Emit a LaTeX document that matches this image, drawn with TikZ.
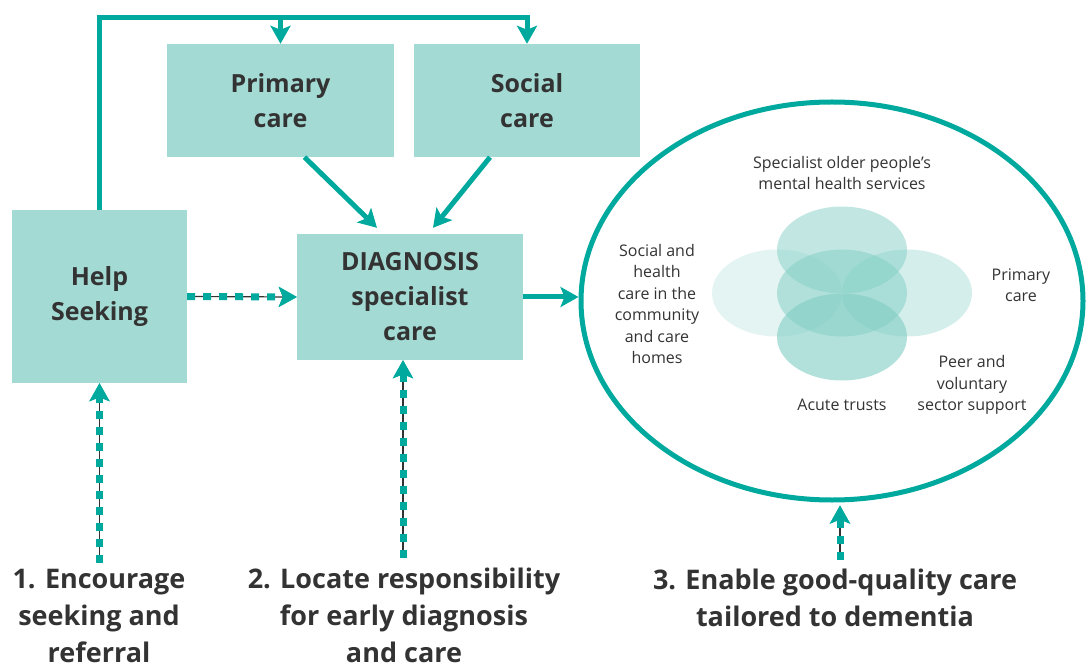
\documentclass[tikz,border=0pt]{standalone}
\usepackage{fontspec}
\setmainfont{Open Sans}
\usetikzlibrary{arrows.meta,shapes.geometric}
\definecolor{tealc}{HTML}{00A99D}
\definecolor{boxc}{HTML}{A3DBD4}
\definecolor{txt}{HTML}{333333}
\definecolor{innerc}{HTML}{7FCDC3}
\begin{document}
\begin{tikzpicture}[x=1pt,y=-1pt,
  box/.style={fill=boxc, draw=none, inner sep=0pt, text=txt, align=center,
    font=\bfseries\fontsize{25}{35}\selectfont},
  tipc/.style={-{Stealth[length=18pt,width=20pt,inset=4pt,color=tealc]}},
  conn/.style={draw=tealc, line width=5pt, tipc},
  dconn/.style={draw=tealc, line width=7pt, dash pattern=on 8pt off 8pt, tipc,
    preaction={draw=txt, line width=1.2pt, solid}},
  small/.style={text=txt, align=center, inner sep=0pt, font=\fontsize{16}{21.5}\selectfont},
  big/.style={text=txt, align=center, inner sep=0pt, font=\bfseries\fontsize{27}{37}\selectfont},
  inner/.style={ellipse, draw=none, minimum width=130pt, minimum height=87pt, inner sep=0pt, fill=innerc}
]
\useasboundingbox (0,0) rectangle (1092,668);

% boxes
\node[box, minimum width=175pt, minimum height=173pt] (help) at (99.5,296.5) {\raisebox{-6pt}{\parbox{150pt}{\centering Help\\Seeking}}};
\node[box, minimum width=227pt, minimum height=113pt] (primary) at (280.5,100.5) {Primary\\care};
\node[box, minimum width=226pt, minimum height=113pt] (social) at (527,100.5) {Social\\care};
\node[box, minimum width=226pt, minimum height=126pt] (diag) at (410,297) {DIAGNOSIS\\specialist\\care};

% big ellipse
\node[ellipse, draw=tealc, line width=5pt, minimum width=502pt, minimum height=398pt, inner sep=0pt] (circ) at (832,301) {};

% inner ellipses
\node[inner, fill opacity=0.22] (eleft) at (777,293) {};
\node[inner, fill opacity=0.34] (eright) at (907,293) {};
\node[inner, fill opacity=0.48] (etop) at (842,250) {};
\node[inner, fill opacity=0.6] (ebot) at (842,337) {};
\node[inner, fill opacity=0.5] (ecen) at (842,293) {};

% inner labels
\node[small] (lspec) at (842,173) {Specialist older people’s\\mental health services};
\node[small] (lsoc) at (657,304) {Social and\\health\\care in the\\community\\and care\\homes};
\node[small] (lprim) at (1021,285) {Primary\\care};
\node[small] (lpeer) at (972,385) {Peer and\\voluntary\\sector support};
\node[small] (lacute) at (842,405) {Acute trusts};

% bottom labels
\node[big] (b1) at (99,615.5) {1. Encourage\\seeking and\\referral};
\node[big] (b2) at (404,615.5) {2. Locate responsibility\\for early diagnosis\\and care};
\node[big] (b3) at (835,598) {3. Enable good-quality care\\tailored to dementia};

% top connector
\coordinate (tl) at (99.5,18);
\coordinate (tp) at (280.5,18);
\draw[conn] (help.north) -- (tl) -| (social.north);
\draw[conn] (tp) -- (primary.north);

% box to diagnosis
\draw[conn] ([xshift=24pt]primary.south) -- ([xshift=-33pt,yshift=6pt]diag.north);
\draw[conn] ([xshift=-37pt]social.south) -- ([xshift=23pt,yshift=6pt]diag.north);

% help -> diag dashed
\draw[dconn] (help.east) -- (diag.west);
% diag -> circle
\draw[conn] (diag.east) -- (circ.west |- diag.east);

% bottom dashed
\coordinate (d1) at (99.5,563);
\coordinate (d2) at (403,558);
\coordinate (d3) at (840,560);
\draw[dconn] (d1) -- (help.south);
\draw[dconn] (d2) -- (diag.south -| d2);
\draw[dconn] (d3) -- ([yshift=-3pt]circ.south -| d3);
\end{tikzpicture}
\end{document}
